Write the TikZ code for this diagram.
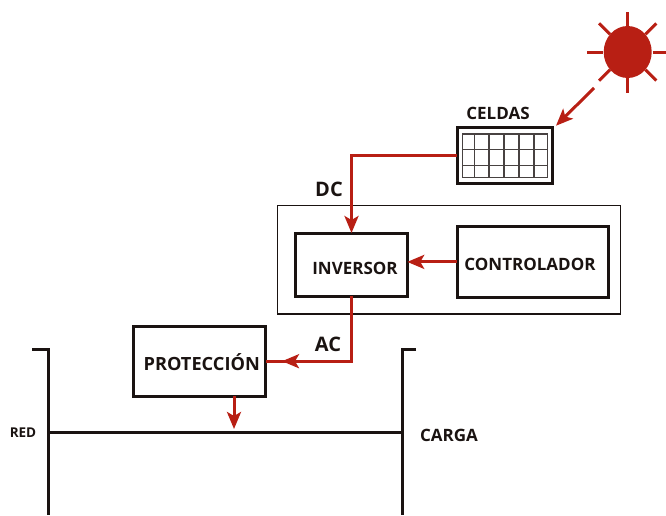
\documentclass[tikz,border=0pt]{standalone}
\usepackage{fontspec}
\setmainfont{Open Sans}
\usetikzlibrary{arrows.meta, positioning, calc, shapes.geometric}
\definecolor{rojo}{HTML}{B81F14}
\definecolor{negro}{HTML}{1A1311}

\begin{document}
\begin{tikzpicture}[
    x=1pt, y=-1pt,
    box/.style={draw=negro, line width=3pt, inner sep=0pt, outer sep=0pt},
    label/.style={font=\fontsize{17}{20}\selectfont\bfseries, text=negro, inner sep=0pt},
    biglabel/.style={font=\fontsize{20}{24}\selectfont\bfseries, text=negro, inner sep=0pt},
    conn/.style={rojo, line width=3pt, -{Stealth[length=17pt, width=14pt, inset=4pt]}},
    rojoline/.style={rojo, line width=3pt},
    bus/.style={negro, line width=3pt},
    ray/.style={rojo, line width=3pt},
    grid/.style={draw=negro!80, line width=1.4pt}
]
\useasboundingbox (0,0) rectangle (666,515);

% Sun
\node[ellipse, fill=rojo, minimum width=48pt, minimum height=52pt, inner sep=0pt] (sun) at (627.7,52) {};
\foreach \a in {0,45,...,315}
    \draw[ray] ($(sun.center)+(\a:25)$) -- ($(sun.center)+(\a:40.5)$);
\coordinate (rayo) at (594,88);
\coordinate (rayoend) at (556,125.7);

% Panel
\node[box, minimum width=95.5pt, minimum height=56.7pt] (celdas) at (504.9,155.6) {};
\node[grid, minimum width=85pt, minimum height=43.7pt, inner sep=0pt] (panel) at (504.8,155.8) {};
\foreach \x in {474.3,489,504,519,534}
    \draw[grid] (\x,134) -- (\x,177.7);
\foreach \y in {149.7,165.3}
    \draw[grid] (462.3,\y) -- (547.3,\y);
\node[label] at (498,113) {CELDAS};

% Inverter housing
\node[draw=negro, line width=1.2pt, minimum width=343pt, minimum height=108.3pt, inner sep=0pt] (caja) at (449.2,259.9) {};

% Boxes
\node[box, minimum width=111.5pt, minimum height=63pt] (inversor) at (351.5,264.5) {};
\node[box, minimum width=150.8pt, minimum height=70.3pt] (controlador) at (532.6,261.9) {};
\node[box, minimum width=132.7pt, minimum height=70.3pt] (proteccion) at (199.4,361.2) {};
\node[label] at (355,268) {INVERSOR};
\node[label] at (530,264) {CONTROLADOR};
\node[label, font=\fontsize{18.2}{22}\selectfont\bfseries] at (201.7,362.5) {PROTECCIÓN};

% Labels on lines
\node[biglabel] at (329,189) {DC};
\node[biglabel] at (328,344) {AC};
\node[label, font=\fontsize{13.5}{16}\selectfont\bfseries] at (23,433) {RED};
\node[label] at (449,435) {CARGA};

% Buses
\coordinate (redtop) at (32.3,349);
\coordinate (redcorner) at (48.7,349);
\coordinate (redend) at (48.7,515);
\coordinate (cargatop) at (416,349);
\coordinate (cargacorner) at (402,349);
\coordinate (cargaend) at (402,515);
\coordinate (redbus) at (48.7,432.3);
\coordinate (cargabus) at (402,432.3);
\draw[bus] (redtop) -- (redcorner) -- (redend);
\draw[bus] (cargatop) -- (cargacorner) -- (cargaend);
\draw[bus] (redbus) -- (cargabus);

% Connections
\coordinate (salida) at (234,429);
\coordinate (acpunta) at (282,361.2);
\coordinate (acstub) at (288,361.2);
\draw[conn] (rayo) -- (rayoend);
\draw[conn] (celdas.west) -| (inversor.north);
\draw[conn] (controlador.west) -- (controlador.west -| inversor.east);
\draw[conn] (inversor.south) |- (acpunta);
\draw[rojoline] (acstub) -- (proteccion.east);
\draw[conn] (proteccion.south -| salida) -- (salida);

\end{tikzpicture}
\end{document}
